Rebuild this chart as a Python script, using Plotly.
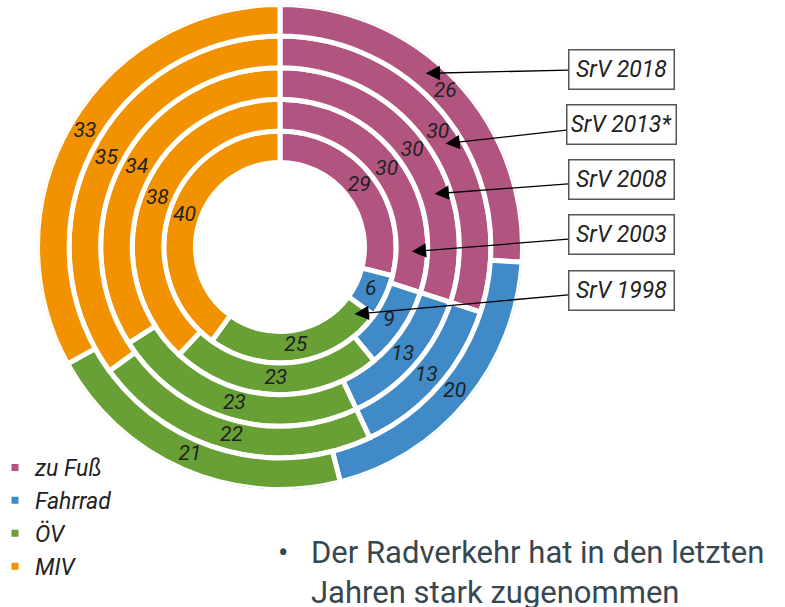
import numpy as np
import plotly.graph_objects as go

# ---------------- data ----------------
years = ["SrV 1998", "SrV 2003", "SrV 2008", "SrV 2013*", "SrV 2018"]   # inner -> outer ring
categories = ["zu Fuß", "Fahrrad", "ÖV", "MIV"]
zu_fuss = [29, 30, 30, 30, 26]
fahrrad = [6, 9, 13, 13, 20]
oev = [25, 23, 23, 22, 21]
miv = [40, 38, 34, 35, 33]
series = [zu_fuss, fahrrad, oev, miv]
colors = ["#B25480", "#408AC8", "#68A036", "#F39200"]

# ---------------- geometry (pixels) ----------------
W, H = 785, 607
CX, CY = 280, 247          # centre of the rings
R_OUT = 242.5              # radial range == pixels
R0, PITCH = 84.5, 31.6     # first ring base, ring pitch
bases = [R0 + i * PITCH for i in range(len(years))]

fig = go.Figure()
cum = np.zeros(len(years))
lab_r, lab_t, lab_txt = [], [], []
for name, vals, col in zip(categories, series, colors):
    v = np.array(vals, dtype=float)
    theta = (cum + v / 2) * 3.6
    fig.add_trace(go.Barpolar(
        r=[PITCH] * len(years), base=bases, theta=theta, width=v * 3.6,
        name=name, legendgroup=name,
        marker=dict(color=col, line=dict(color="white", width=5)),
        hoverinfo="skip"))
    lab_r += [b + PITCH / 2 for b in bases]
    lab_t += list(theta)
    lab_txt += [str(x) for x in vals]
    cum += v

fig.add_trace(go.Scatterpolar(
    r=lab_r, theta=lab_t, text=lab_txt, mode="text",
    textfont=dict(family="Roboto", size=21, color="#222222", style="italic"),
    showlegend=False, hoverinfo="skip"))

# ---------------- year callouts ----------------
arrow_angles = [132, 92, 71, 58, 40]       # degrees clockwise from top
box_y = [290, 235, 180, 124, 69]
box_x = 621
annotations = []
for i, (yr, ang, by) in enumerate(zip(years, arrow_angles, box_y)):
    rr = bases[i] + PITCH / 2
    tx = CX + rr * np.sin(np.radians(ang))
    ty = CY - rr * np.cos(np.radians(ang))
    annotations.append(dict(
        x=tx / W, y=1 - ty / H, xref="paper", yref="paper",
        ax=box_x - tx, ay=by - ty, axref="pixel", ayref="pixel",
        text=yr, showarrow=True, arrowhead=2, arrowsize=2.2, arrowwidth=1.3,
        arrowcolor="black", bordercolor="#555555", borderwidth=1.5,
        borderpad=4, bgcolor="white", width=100 if "*" in yr else 96, height=30,
        font=dict(family="Roboto", size=23, color="#222222", style="italic")))

TXT_Y = 572
annotations.append(dict(
    x=283 / W, y=1 - TXT_Y / H, xref="paper", yref="paper", showarrow=False,
    xanchor="center", yanchor="middle", align="center",
    text="•<br> ", font=dict(family="Roboto", size=31, color="#37474F")))
annotations.append(dict(
    x=309 / W, y=1 - TXT_Y / H, xref="paper", yref="paper", showarrow=False,
    xanchor="left", yanchor="middle", align="left",
    text="Der Radverkehr hat in den letzten<br>Jahren stark zugenommen",
    font=dict(family="Roboto", size=31, color="#37474F")))

fig.update_layout(
    width=W, height=H, autosize=False,
    margin=dict(l=0, r=0, t=0, b=0, autoexpand=False),
    paper_bgcolor="white", plot_bgcolor="white",
    font=dict(family="Roboto"),
    polar=dict(
        domain=dict(x=[(CX - R_OUT) / W, (CX + R_OUT) / W],
                    y=[1 - (CY + R_OUT) / H, 1 - (CY - R_OUT) / H]),
        bgcolor="white", barmode="overlay",
        radialaxis=dict(range=[0, R_OUT], visible=False),
        angularaxis=dict(rotation=90, direction="clockwise", visible=False)),
    showlegend=True,
    legend=dict(x=-5 / W, y=1 - 446 / H, xanchor="left", yanchor="top",
                font=dict(family="Roboto", size=23, color="#222222", style="italic"),
                tracegroupgap=0, bgcolor="rgba(0,0,0,0)"),
    annotations=annotations,
)

fig.write_html("out.html", config={"displayModeBar": False},
               post_script="document.body.style.margin='0';document.body.style.padding='0';")
